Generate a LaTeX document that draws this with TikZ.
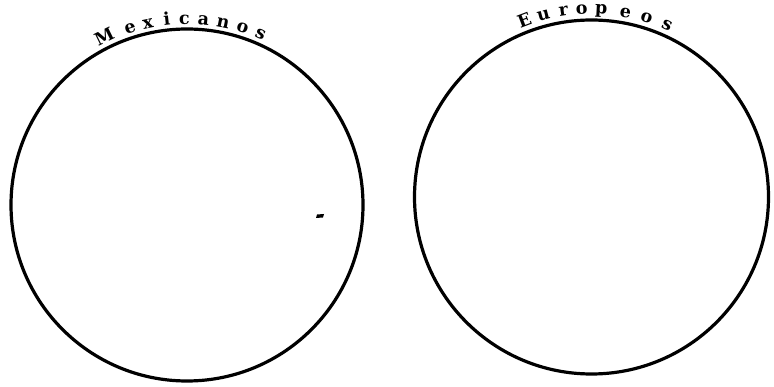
\documentclass[tikz,border=0pt]{standalone}
\usepackage{fontspec}
\setmainfont{DejaVu Serif}
\begin{document}
\begin{tikzpicture}[x=1pt,y=1pt,
  ring/.style={draw=black,line width=3.2pt},
  letter/.style={font=\fontsize{17.5}{17.5}\selectfont\bfseries,inner sep=0pt,anchor=base}]
\useasboundingbox[fill=white] (0,0) rectangle (774,386);
\coordinate (L) at (187,181);
\coordinate (R) at (591.5,189);
\draw[ring] (L) circle[radius=176];
\draw[ring] (R) circle[radius=177];
\foreach \l/\ang [count=\i] in {M/116.2,e/107.8,x/102.1,i/96.2,c/90.8,a/84.9,n/78.8,o/72.6,s/66.7}{
  \node[letter,rotate=\ang-90] (mx\i) at ([shift={(\ang:181)}]L) {\l};
}
\foreach \l/\ang [count=\i] in {E/110.8,u/104.8,r/98.6,o/93.0,p/87.0,e/79.6,o/72.9,s/66.3}{
  \node[letter,rotate=\ang-90] (eu\i) at ([shift={(\ang:183)}]R) {\l};
}
\fill[black] (316,168) -- (323,168.5) -- (324,172) -- (317,171.5) -- cycle;
\end{tikzpicture}
\end{document}
